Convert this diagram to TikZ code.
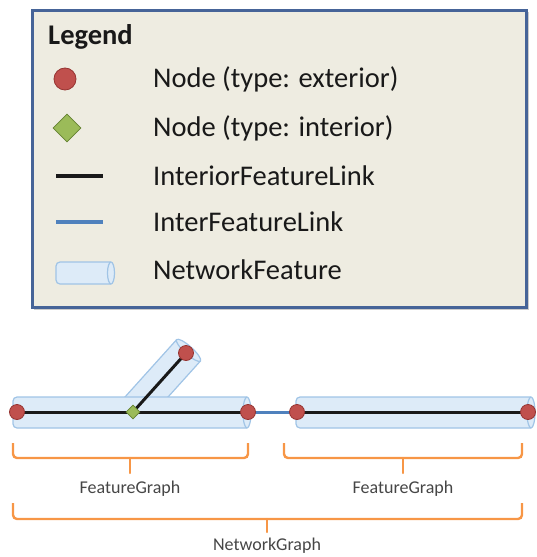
\documentclass[tikz,border=0pt]{standalone}
\usepackage{fontspec}
\setmainfont{Carlito}
\usetikzlibrary{shapes.geometric}
\definecolor{boxfill}{RGB}{238,236,225}
\definecolor{boxline}{RGB}{70,100,152}
\definecolor{pipefill}{RGB}{221,235,248}
\definecolor{pipeline}{RGB}{160,196,230}
\definecolor{nodered}{RGB}{192,80,77}
\definecolor{nodereddark}{RGB}{150,52,50}
\definecolor{nodegreen}{RGB}{155,187,89}
\definecolor{nodegreendark}{RGB}{100,130,50}
\definecolor{linkblue}{RGB}{79,129,189}
\definecolor{braceorange}{RGB}{247,150,70}
\definecolor{labelgrey}{RGB}{70,70,70}
\newcommand\mypipe[3]{% length, half height, cap x radius
  \draw[pipestyle,rounded corners=4] (#1,#2) -- (0,#2) -- (0,-#2) [sharp corners] -- (#1,-#2)
     arc[start angle=-90,end angle=90,x radius=#3,y radius=#2] -- cycle;
  \draw[pipestyle] (#1,-#2) arc[start angle=-90,end angle=-270,x radius=#3,y radius=#2];
}
\tikzset{
  pipestyle/.style={fill=pipefill,draw=pipeline,line width=1.2pt},
  extnode/.style={circle,fill=nodered,draw=nodereddark,line width=0.8pt,minimum size=15pt,inner sep=0pt},
  intnode/.style={diamond,fill=nodegreen,draw=nodegreendark,line width=0.8pt,minimum size=14pt,inner sep=0pt},
  intlink/.style={line width=3pt,black!90},
  interlink/.style={line width=3pt,linkblue},
  legtext/.style={anchor=west,inner sep=0pt,font=\fontsize{28.5}{32}\selectfont,text=black!90},
  bracestyle/.style={draw=braceorange,line width=2.4pt,rounded corners=4},
  bracelabel/.style={inner sep=0pt,font=\fontsize{18}{21}\selectfont,text=labelgrey},
}
\begin{document}
\begin{tikzpicture}[x=1pt,y=-1pt]
\useasboundingbox (0,0) rectangle (537,557);
% legend box
\fill[black!20] (34,12) rectangle (529,310);
\draw[fill=boxfill,draw=boxline,line width=3pt] (32,10) rectangle (526,307);
\node[legtext,font=\fontsize{28.5}{32}\selectfont\bfseries] (legtitle) at (48,37) {Legend};
\node[extnode,minimum size=22pt] (legext) at (65,79) {};
\node[legtext] (txtext) at (153,79) {Node (type: exterior)};
\node[intnode,minimum size=28pt] (legint) at (67,128) {};
\node[legtext] (txtint) at (153,128) {Node (type: interior)};
\coordinate (lila) at (56,176);
\coordinate (lilb) at (103,176);
\draw[intlink,line width=3.5pt] (lila) -- (lilb);
\node[legtext] (txtil) at (153,176) {InteriorFeatureLink};
\coordinate (lifa) at (56,222);
\coordinate (lifb) at (103,222);
\draw[interlink,line width=3.5pt] (lifa) -- (lifb);
\node[legtext] (txtifl) at (153,222) {InterFeatureLink};
\begin{scope}[shift={(56,273)}]
  \mypipe{55}{11}{3.5}
\end{scope}
\node[legtext] (txtnf) at (153,270) {NetworkFeature};
% diagram nodes
\coordinate (n1) at (17,412);
\coordinate (d1) at (133,412);
\coordinate (n2) at (186,353);
\coordinate (n3) at (248,412);
\coordinate (n4) at (297,412);
\coordinate (n5) at (528,412);
% branch pipe
\begin{scope}[shift={(d1)},rotate=48]
  \mypipe{83}{16}{4}
\end{scope}
% main pipes
\begin{scope}[shift={(13,412.5)}]
  \mypipe{234}{15.5}{4}
\end{scope}
\begin{scope}[shift={(296,412.5)}]
  \mypipe{235}{15.5}{4}
\end{scope}
% links
\draw[intlink] (n1) -- (d1);
\draw[intlink] (d1) -- (n3);
\draw[intlink] (d1) -- (n2);
\draw[interlink] (n3) -- (n4);
\draw[intlink] (n4) -- (n5);
% nodes
\node[extnode] (N1) at (n1) {};
\node[extnode] (N2) at (n2) {};
\node[extnode] (N3) at (n3) {};
\node[extnode] (N4) at (n4) {};
\node[extnode] (N5) at (n5) {};
\node[intnode] (D1) at (d1) {};
% braces
\draw[bracestyle] (13,443) -- (13,458) -- (248,458) -- (248,443);
\draw[bracestyle,line cap=round] (130,458) -- (130,473);
\node[bracelabel] (fg1) at (130,489) {FeatureGraph};
\draw[bracestyle] (284,443) -- (284,458) -- (522,458) -- (522,443);
\draw[bracestyle,line cap=round] (403,458) -- (403,473);
\node[bracelabel] (fg2) at (403,489) {FeatureGraph};
\draw[bracestyle] (13,503) -- (13,519) -- (522,519) -- (522,503);
\draw[bracestyle,line cap=round] (267,519) -- (267,532);
\node[bracelabel] (ng) at (267,546) {NetworkGraph};
\end{tikzpicture}
\end{document}
